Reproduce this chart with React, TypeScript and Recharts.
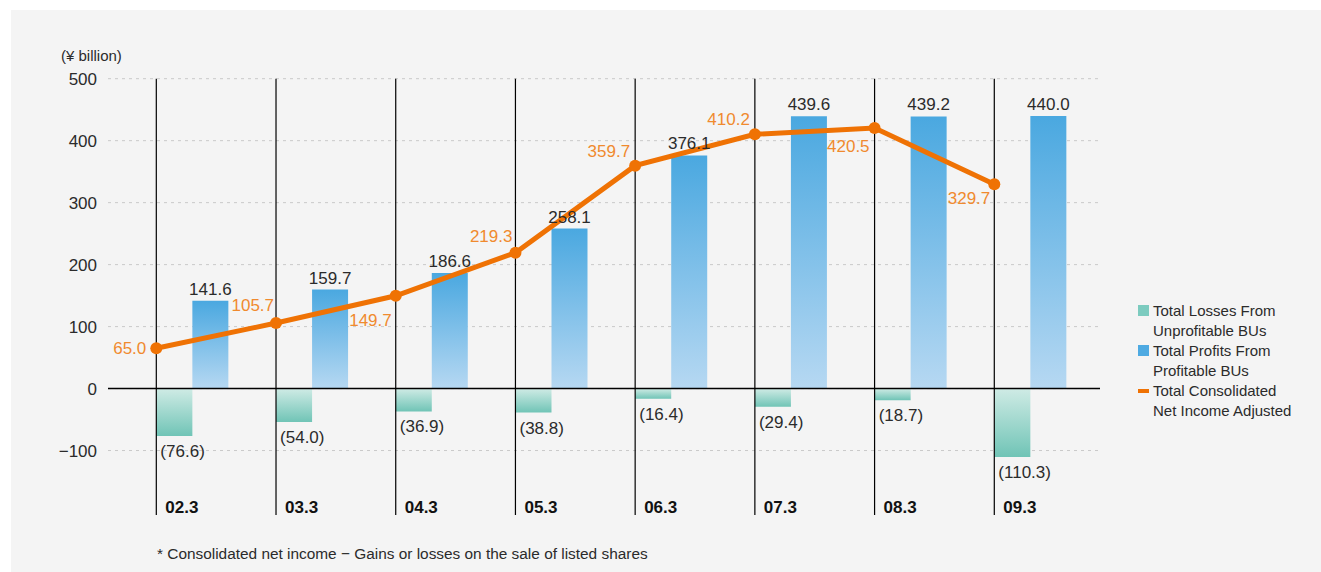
import React from "react";
import {
  ComposedChart,
  Bar,
  Line,
  XAxis,
  YAxis,
  CartesianGrid,
  ReferenceLine,
  LabelList,
} from "recharts";

const categories = ["02.3", "03.3", "04.3", "05.3", "06.3", "07.3", "08.3", "09.3"];
const lossValues = [-76.6, -54.0, -36.9, -38.8, -16.4, -29.4, -18.7, -110.3];
const profitValues = [141.6, 159.7, 186.6, 258.1, 376.1, 439.6, 439.2, 440.0];
const netIncomeValues = [65.0, 105.7, 149.7, 219.3, 359.7, 410.2, 420.5, 329.7];
const yTicks = [-100, 0, 100, 200, 300, 400, 500];

// where each orange value sits relative to its dot [dx, dy]
const netLabelOffsets = [
  [-10, 0],
  [-2, -18],
  [-4, 24],
  [-3, -17],
  [-5, -15],
  [-5, -15],
  [-5, 18],
  [-4, 14],
];

const BAR_SHIFT = 0.3; // bars sit just right of each year's divider
const FONT = "'Liberation Sans', Arial, sans-serif";
const ORANGE = "#ef7204";
const ORANGE_TEXT = "#f08a2e";
const TEXT = "#2b2b2b";

const data = categories.map((c, i) => ({
  name: c,
  lineX: i,
  barX: i + BAR_SHIFT,
  loss: lossValues[i],
  profit: profitValues[i],
  net: netIncomeValues[i],
}));

const fmtTick = (v: number) => (v < 0 ? `\u2212${Math.abs(v)}` : `${v}`);

const ProfitLabel = (props: any) => {
  const { x, y, width, height, value } = props;
  const top = Math.min(y, y + height);
  return (
    <text x={x + width / 2} y={top - 6} textAnchor="middle" fontSize={17} fill={TEXT} fontFamily={FONT}>
      {Number(value).toFixed(1)}
    </text>
  );
};

const LossLabel = (props: any) => {
  const { x, y, height, value } = props;
  const bottom = Math.max(y, y + height);
  return (
    <text x={x + 4} y={bottom + 21} textAnchor="start" fontSize={17} fill={TEXT} fontFamily={FONT}>
      ({Math.abs(value).toFixed(1)})
    </text>
  );
};

const NetLabel = (props: any) => {
  const { x, y, value, index } = props;
  const [dx, dy] = netLabelOffsets[index] || [0, 0];
  return (
    <text x={x + dx} y={y + dy + 6} textAnchor="end" fontSize={17} fill={ORANGE_TEXT} fontFamily={FONT}>
      {Number(value).toFixed(1)}
    </text>
  );
};

// year caption sits at the foot of each divider line
const YearLabel = (props: any) => {
  const { viewBox, text } = props;
  if (!viewBox) return null;
  const { x, y, height } = viewBox;
  return (
    <text x={x + 9} y={y + height - 2} fontSize={17} fontWeight="bold" fill="#111" fontFamily={FONT}>
      {text}
    </text>
  );
};

const legendItems = [
  { label: ["Total Losses From", "Unprofitable BUs"], color: "#7ccbbf", kind: "box" },
  { label: ["Total Profits From", "Profitable BUs"], color: "#4eaae2", kind: "box" },
  { label: ["Total Consolidated", "Net Income Adjusted"], color: ORANGE, kind: "line" },
];

export default function App() {
  return (
    <div
      style={{
        position: "absolute",
        left: 11,
        top: 10,
        width: 1310,
        height: 562,
        background: "#f4f4f4",
        overflow: "hidden",
        fontFamily: FONT,
      }}
    >
      <div style={{ position: "absolute", left: 50, top: 36, fontSize: 15, lineHeight: "20px", color: TEXT }}>
        (¥ billion)
      </div>

      <ComposedChart
        width={1310}
        height={562}
        data={data}
        margin={{ top: 68.7, right: 221, bottom: 57, left: 0 }}
        barGap={0}
      >
        <defs>
          <linearGradient id="profitGrad" x1="0" y1="0" x2="0" y2="1">
            <stop offset="0%" stopColor="#4aa8e0" />
            <stop offset="100%" stopColor="#b6d8f2" />
          </linearGradient>
          <linearGradient id="lossGrad" x1="0" y1="0" x2="0" y2="1">
            <stop offset="0%" stopColor="#cfebe5" />
            <stop offset="100%" stopColor="#70c4b6" />
          </linearGradient>
        </defs>
        <CartesianGrid
          xAxisId="line"
          vertical={false}
          stroke="#c9c9c9"
          strokeDasharray="3 4"
          syncWithTicks
        />
        <XAxis
          xAxisId="bar"
          dataKey="barX"
          type="number"
          domain={[-0.4035, 7.883]}
          allowDataOverflow
          hide
        />
        <XAxis
          xAxisId="line"
          dataKey="lineX"
          type="number"
          domain={[-0.4035, 7.883]}
          allowDataOverflow
          hide
        />
        <YAxis
          type="number"
          domain={[-204, 500]}
          ticks={yTicks}
          allowDataOverflow
          width={97}
          axisLine={false}
          tickLine={false}
          tickSize={0}
          tickMargin={11}
          tickFormatter={fmtTick}
          tick={{ fontSize: 17, fill: TEXT, fontFamily: FONT }}
        />
        <Bar xAxisId="bar" dataKey="loss" barSize={36} fill="url(#lossGrad)" isAnimationActive={false}>
          <LabelList dataKey="loss" content={<LossLabel />} />
        </Bar>
        <Bar xAxisId="bar" dataKey="profit" barSize={36} fill="url(#profitGrad)" isAnimationActive={false}>
          <LabelList dataKey="profit" content={<ProfitLabel />} />
        </Bar>
        {categories.map((c, i) => (
          <ReferenceLine
            key={c}
            xAxisId="line"
            x={i}
            stroke="#000"
            strokeWidth={1.2}
            label={<YearLabel text={c} />}
          />
        ))}
        <ReferenceLine xAxisId="line" y={0} stroke="#000" strokeWidth={1.5} />
        <Line
          xAxisId="line"
          dataKey="net"
          stroke={ORANGE}
          strokeWidth={5}
          dot={{ r: 6, fill: ORANGE, stroke: ORANGE, strokeWidth: 0 }}
          activeDot={false}
          isAnimationActive={false}
        >
          <LabelList dataKey="net" content={<NetLabel />} />
        </Line>
      </ComposedChart>

      <div style={{ position: "absolute", left: 1127, top: 291, fontSize: 15, lineHeight: "20px", color: TEXT }}>
        {legendItems.map((item) => (
          <div key={item.label[0]} style={{ position: "relative", paddingLeft: 15 }}>
            <span
              style={{
                position: "absolute",
                left: 0,
                top: item.kind === "box" ? 4 : 7.5,
                width: 11,
                height: item.kind === "box" ? 11 : 4.5,
                background: item.color,
              }}
            />
            <div>{item.label[0]}</div>
            <div>{item.label[1]}</div>
          </div>
        ))}
      </div>

      <div style={{ position: "absolute", left: 146, top: 534, fontSize: 15.4, lineHeight: "20px", color: TEXT }}>
        * Consolidated net income − Gains or losses on the sale of listed shares
      </div>
    </div>
  );
}
